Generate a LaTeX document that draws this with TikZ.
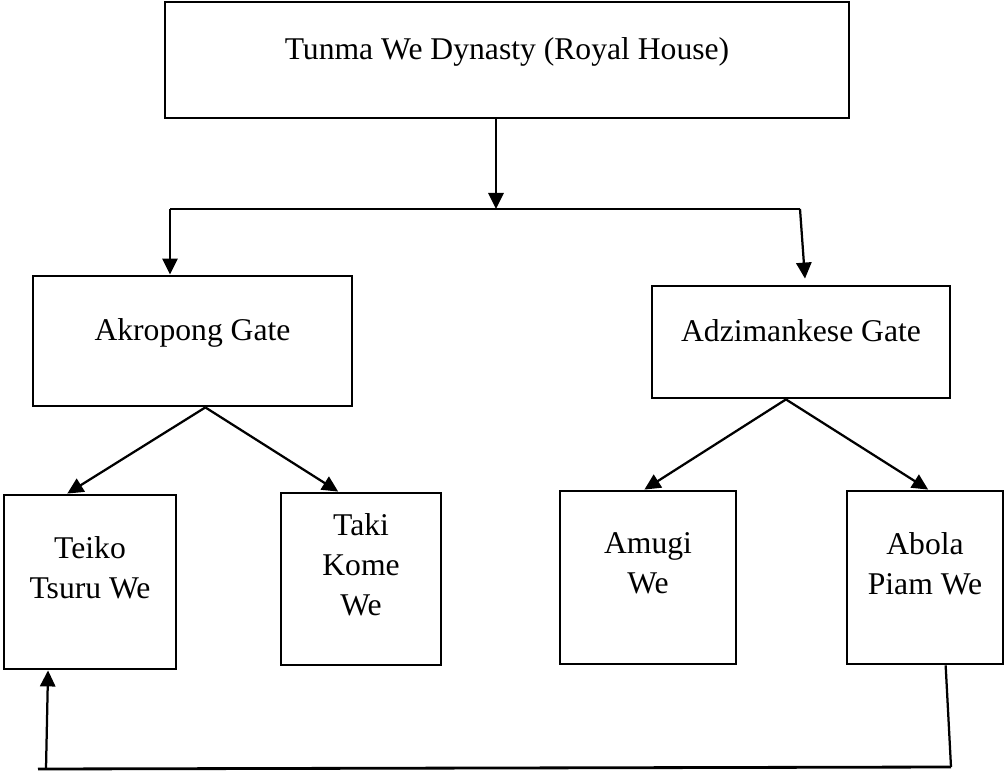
\documentclass[tikz,border=0pt]{standalone}
\usepackage{fontspec}
\setmainfont{Liberation Serif}
\usetikzlibrary{arrows.meta,calc}

\tikzset{
  box/.style 2 args={draw, line width=2pt, inner sep=0pt,
    minimum width=#1*0.025cm, minimum height=#2*0.025cm},
  txt/.style={align=center, font=\fontsize{22.5}{28.5}\selectfont, yshift=0.21cm,
    execute at begin node=\strut, execute at end node=\strut},
  arr/.style={line width=1.6pt, -{Triangle[length=0.4cm,width=0.38cm]}},
  bar/.style={line width=2pt}
}

\begin{document}
\begin{tikzpicture}[x=0.025cm, y=-0.025cm]
\useasboundingbox (0,0) rectangle (1006,774);

% the houses
\node[box={684}{116}, label={[txt]center:Tunma We Dynasty (Royal House)}] (top) at (507,60) {};
\node[box={319}{130}, label={[txt]center:Akropong Gate}] (akro) at (192.5,341) {};
\node[box={298}{112}, label={[txt]center:Adzimankese Gate}] (adzi) at (801,342) {};
\node[box={172}{174}, label={[txt]center:Teiko\\Tsuru We}] (teiko) at (90,582) {};
\node[box={160}{172}, label={[txt]center:Taki\\Kome\\We}] (taki) at (361,579) {};
\node[box={176}{173}, label={[txt]center:Amugi\\We}] (amugi) at (648,577.5) {};
\node[box={156}{173}, label={[txt]center:Abola\\Piam We}] (abola) at (925,577.5) {};

% dynasty to the gates
\coordinate (barL) at (170,209);
\coordinate (barM) at (496,209);
\coordinate (barR) at (800,209);
\draw[bar] (barL) -- (barR);
\draw[arr] (top.south -| barM) -- (barM);
\draw[arr] (barL) -- (barL |- akro.north);
\draw[arr] (barR) -- ([xshift=0.1cm,yshift=0.15cm]adzi.north);

% gates to the families
\coordinate (akroOut) at ($(akro.south west)!0.54!(akro.south east)$);
\coordinate (adziOut) at ($(adzi.south west)!0.45!(adzi.south east)$);
\foreach \from/\to/\f in {akroOut/teiko/0.37, akroOut/taki/0.36, adziOut/amugi/0.48, adziOut/abola/0.52}
  \draw[arr] (\from) -- ($(\to.north west)!\f!(\to.north east)$);

% back round to Teiko Tsuru We
\coordinate (loopR) at (951,767);
\coordinate (loopL) at (38,769);
\coordinate (loopUp) at (46,769);
\draw[line width=1.6pt] ($(abola.south west)!0.63!(abola.south east)$) -- (loopR);
\draw[bar] (loopR) -- (loopL);
\draw[arr] (loopUp) -- ($(teiko.south west)!0.26!(teiko.south east)$);
\end{tikzpicture}
\end{document}
